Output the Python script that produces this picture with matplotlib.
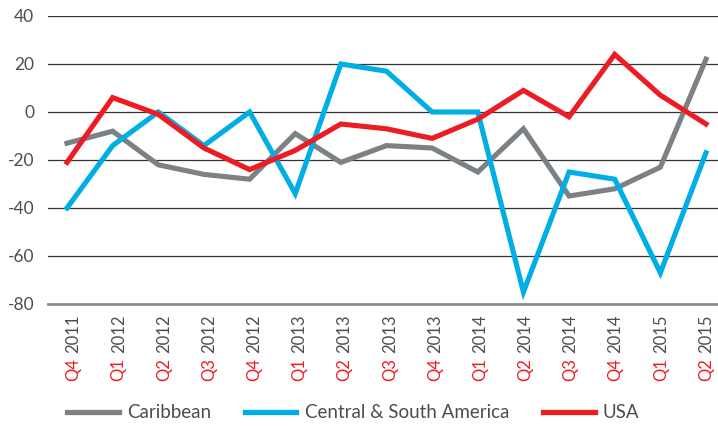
import matplotlib
matplotlib.use("Agg")
import matplotlib.pyplot as plt
import matplotlib.transforms as mtrans

plt.rcParams['font.family'] = ['Lato', 'DejaVu Sans']

quarters = ["Q4", "Q1", "Q2", "Q3", "Q4", "Q1", "Q2", "Q3", "Q4", "Q1", "Q2", "Q3", "Q4", "Q1", "Q2"]
years = ["2011", "2012", "2012", "2012", "2012", "2013", "2013", "2013", "2013", "2014", "2014", "2014", "2014", "2015", "2015"]
caribbean = [-13, -8, -22, -26, -28, -9, -21, -14, -15, -25, -7, -35, -32, -23, 22]
central_sa = [-40, -14, 0, -14, 0, -34, 20, 17, 0, 0, -75, -25, -28, -67, -17]
usa = [-21, 6, -1, -15, -24, -16, -5, -7, -11, -3, 9, -2, 24, 7, -5]
yticks = [40, 20, 0, -20, -40, -60, -80]

GREY = "#7b8185"
BLUE = "#00aee6"
RED = "#ed1c24"
TXT = "#4d4d4d"

fig = plt.figure(figsize=(7.18, 4.26), dpi=100)
ax = fig.add_axes([48/718, 1-304/426, 1-48/718, (304-16)/426])

x = list(range(len(quarters)))
lw = 3.7
ax.plot(x, caribbean, color=GREY, lw=lw, label="Caribbean", solid_joinstyle="miter", zorder=3)
ax.plot(x, central_sa, color=BLUE, lw=lw, label="Central & South America", solid_joinstyle="miter", zorder=4)
ax.plot(x, usa, color=RED, lw=lw, label="USA", solid_joinstyle="miter", zorder=5)

ax.set_ylim(-80, 40)
ax.set_xlim(-19/45.6, 14 + 12/45.6)
ax.set_yticks(yticks)
ax.set_yticklabels([str(v) for v in yticks], color=TXT, fontsize=12.5)
ax.tick_params(axis='y', length=0, pad=10)
ax.set_xticks([])
for s in ax.spines.values():
    s.set_visible(False)
for v in yticks:
    if v == -80:
        ax.axhline(v, color="#8a8a8a", lw=2, zorder=1, clip_on=False)
    else:
        ax.axhline(v, color="#333333", lw=0.9, zorder=1)

trans = mtrans.blended_transform_factory(ax.transData, ax.transAxes)
n = len(quarters)
for xi, (q, yv) in enumerate(zip(quarters, years)):
    off = mtrans.ScaledTranslation(6.5 * (1 - xi / (n - 1)) / 100, 0, fig.dpi_scale_trans)
    t = ax.text(xi, -0.035, yv, rotation=90, ha='center', va='top', color=TXT,
                fontsize=12, transform=trans + off)
    ax.annotate(q, xy=(0.5, 0), xycoords=t, xytext=(0, -4), textcoords='offset points',
                rotation=90, ha='center', va='top', color=RED, fontsize=12)

leg = fig.legend(loc='center left', bbox_to_anchor=(67/718, 1-413/426), ncol=3, frameon=False,
                 fontsize=13.5, handlelength=2.75, columnspacing=1.8, handletextpad=0.45,
                 borderpad=0, borderaxespad=0)
for t in leg.get_texts():
    t.set_color(TXT)
for h in leg.legend_handles:
    h.set_linewidth(3.8)

fig.savefig("out.png", dpi=100)
